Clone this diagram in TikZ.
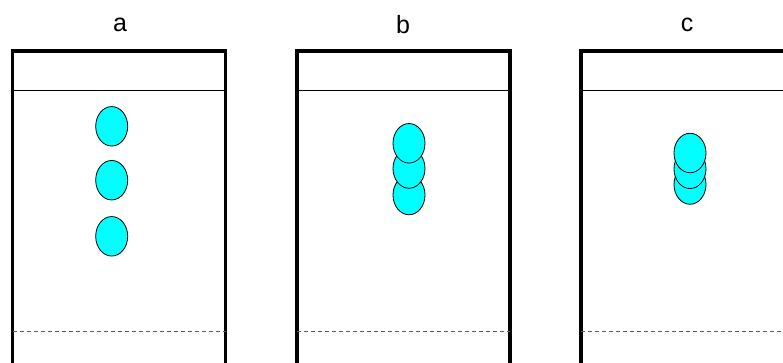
\documentclass[tikz,border=0pt]{standalone}
\usepackage{fontspec}
\setmainfont{Liberation Sans}
\usetikzlibrary{shapes.geometric}
\definecolor{aqua}{RGB}{0,255,255}
\begin{document}
\begin{tikzpicture}[x=1pt,y=-1pt,
  wall/.style={line width=3.5pt,line join=miter},
  thinline/.style={line width=1pt},
  dashline/.style={line width=0.9pt,dashed,dash pattern=on 4pt off 3pt,black!65},
  spot/.style={ellipse,draw=black,line width=0.8pt,fill=aqua,minimum width=32pt,minimum height=39.5pt,inner sep=0pt},
  lab/.style={font=\fontsize{25}{28}\selectfont,inner sep=0pt}]
\useasboundingbox (0,0) rectangle (783,362);
\clip (0,0) rectangle (783,362);
\foreach \x/\n in {12.5/a,297/b,581/c}{
  \draw[wall] (\x,370) -- (\x,51) -- (\x+213,51) -- (\x+213,370);
  \draw[thinline] (\x,90) -- (\x+213,90);
  \draw[dashline] (\x,331.5) -- (\x+213,331.5);
}
\node[lab] (la) at (120,25) {a};
\node[lab] (lb) at (403,25) {b};
\node[lab] (lc) at (687,25) {c};
% panel a
\node[spot] (a3) at (111.7,236.3) {};
\node[spot] (a2) at (111.7,180.2) {};
\node[spot] (a1) at (111.7,126.3) {};
% panel b
\node[spot] (b3) at (409,195) {};
\node[spot] (b2) at (409,168.5) {};
\node[spot] (b1) at (409,143.3) {};
% panel c
\node[spot] (c3) at (690,184.5) {};
\node[spot] (c2) at (690,168.8) {};
\node[spot] (c1) at (690,153) {};
\end{tikzpicture}
\end{document}
